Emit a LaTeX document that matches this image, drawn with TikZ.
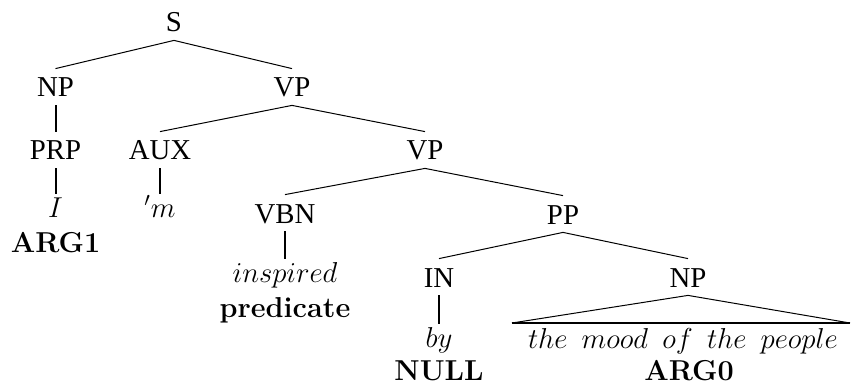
\documentclass[tikz,border=0pt]{standalone}
\usepackage{fontspec}
\newfontfamily\labfont{Liberation Serif}
\begin{document}
\begin{tikzpicture}[x=0.5pt,y=-0.5pt,
	every node/.style={inner sep=0pt,anchor=base,font=\fontsize{14.4}{17}\selectfont},
	lab/.style={font=\labfont\fontsize{14.4}{17}\selectfont,text height=14pt,text depth=4pt},
	leaf/.style={text height=11.5pt},
	branch/.style={line width=0.5pt},
	unary/.style={line width=1pt}]
		
		\useasboundingbox (0,0) rectangle (851,385);
		
		% root
		\node[lab] (s) at (174,32) {S};
		\node[lab] (np) at (55.5,97) {NP};
		\node[lab] (vp) at (292,97) {VP};
		\draw[branch] (np.north) -- (s.south) -- (vp.north);
		
		% subject
		\node[lab] (prp) at (55.5,160) {PRP};
		\node[leaf] (i) at (55.5,217) {$I$};
		\node (arg1) at (55.5,252) {\textbf{ARG1}};
		\draw[unary] (np.south) -- (prp.north);
		\draw[unary] (prp.south) -- (i.north);
		
		% verb phrase
		\node[lab] (aux) at (160,160) {AUX};
		\node[lab] (vpb) at (425,160) {VP};
		\draw[branch] (aux.north) -- (vp.south) -- (vpb.north);
		\node[leaf] (m) at (160,217) {$'m$};
		\draw[unary] (aux.south) -- (m.north);
		
		\node[lab] (vbn) at (285,223) {VBN};
		\node[lab] (pp) at (563,224) {PP};
		\draw[branch] (vbn.north) -- (vpb.south) -- (pp.north);
		\node[leaf] (inspired) at (285,282) {$inspired$};
		\node (pred) at (285,317) {\textbf{predicate}};
		\draw[unary] (vbn.south) -- (inspired.north);
		
		% prepositional phrase
		\node[lab] (in) at (439,287) {IN};
		\node[lab] (npb) at (688,287) {NP};
		\draw[branch] (in.north) -- (pp.south) -- (npb.north);
		\node[leaf] (by) at (439,347) {$by$};
		\node (null) at (439,380) {\textbf{NULL}};
		\draw[unary] (in.south) -- (by.north);
		
		% triangle
		\coordinate (tl) at (512,323);
		\coordinate (tr) at (850,323);
		\draw[branch] (tl) -- (npb.south) -- (tr);
		\draw[line width=0.8pt] (tl) -- (tr);
		\node (mood) at (683,348) {\makebox[155pt][s]{$the$ $mood$ $of$ $the$ $people$}};
		\node (arg0) at (689,380) {\textbf{ARG0}};
	\end{tikzpicture}
\end{document}
